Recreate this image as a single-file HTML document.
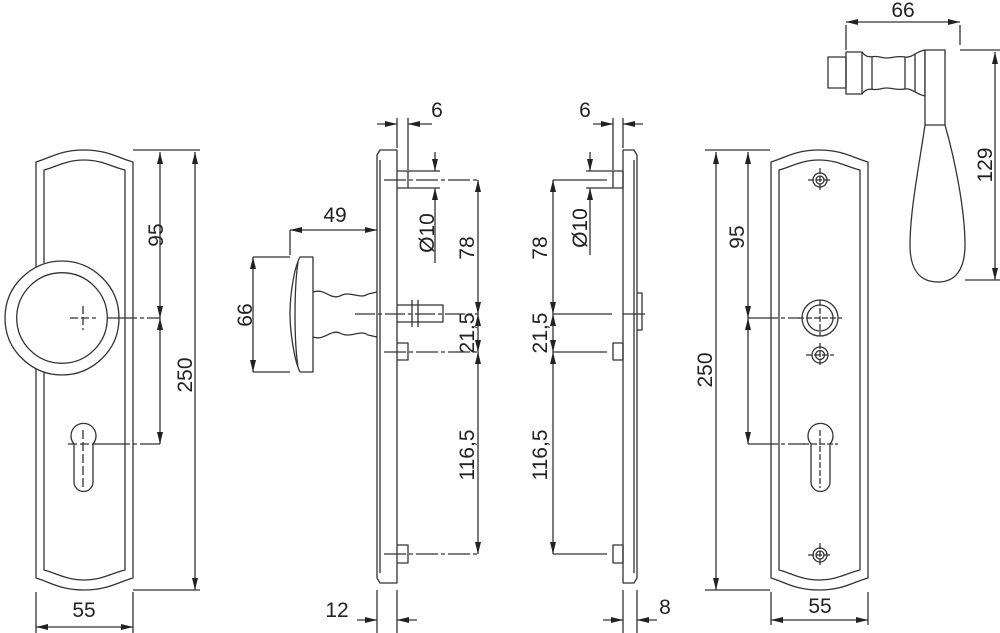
<!DOCTYPE html>
<html><head><meta charset="utf-8"><style>
html,body{margin:0;padding:0;background:#fff;}
svg{display:block;}
text{font-family:"Liberation Sans",Arial,sans-serif;font-size:21px;fill:#222;}
</style></head><body>
<svg width="1000" height="633" viewBox="0 0 1000 633" xmlns="http://www.w3.org/2000/svg">
<defs>
<marker id="a" viewBox="0 0 12 6" refX="12" refY="3" markerWidth="12" markerHeight="6" orient="auto-start-reverse" markerUnits="userSpaceOnUse"><path d="M0,0 L12,3 L0,6 Z" fill="#222"/></marker>
<g id="plate">
<path d="M36,162 C50,158 60,150 84,150 C108,150 118,158 133,162 L133,578 C118,582 108,590 84,590 C60,590 50,582 36,578 Z" fill="#fff"/>
<path d="M44,170 C56,167 66,160 84,160 C102,160 112,167 125,170 L125,570 C112,573 102,580 84,580 C66,580 56,573 44,570 Z" fill="none"/>
</g>
</defs>
<g fill="none" stroke="#333" stroke-width="1.3" stroke-linejoin="round">
<!-- LEFT PLATE -->
<use href="#plate"/>
<path d="M119,318 Q119,294 102,277.5 Q85,261 62,261 Q39,261 22,277.5 Q5,294 5,318 Q5,342 22,358.5 Q39,375 62,375 Q85,375 102,358.5 Q119,342 119,318Z" fill="#fff"/>
<path d="M107.3,318 Q107.3,299.25 94,285.9 Q80.75,272.7 62,272.7 Q43.25,272.7 30,285.9 Q16.7,299.25 16.7,318 Q16.7,336.75 30,350.1 Q43.25,363.3 62,363.3 Q80.75,363.3 94,350.1 Q107.3,336.75 107.3,318Z"/>
<path d="M70,318 H96 M83,306 V330" stroke-dasharray="8,3"/>
<path d="M74,444 A12.5,12.5 0 1 1 93,444 L93,482 A9.5,9.5 0 0 1 74,482 Z"/>
<path d="M68,444 H100 M83,430 V488" stroke-dasharray="9,3"/>
<path d="M107,318 H160 M100,444 H160" stroke-dasharray="30,3,4,3"/>
<path d="M133,150 H200 M133,590 H200"/>
<path d="M160,152 V318" marker-start="url(#a)" marker-end="url(#a)"/>
<path d="M160,318 V444" marker-start="url(#a)" marker-end="url(#a)"/>
<path d="M195,152 V590" marker-start="url(#a)" marker-end="url(#a)"/>
<path d="M36,592 V633 M133,592 V633"/>
<path d="M36,627 H133" marker-start="url(#a)" marker-end="url(#a)"/>

<!-- SIDE VIEW 1 -->
<path d="M380,150 H397 V583 H380 L377,578 V155 Z" fill="#fff"/>
<path d="M380,160 V573"/>
<path d="M397,171 H408 V188 H397 M397,343 H408 V360 H397 M397,545 H408 V563 H397"/>
<path d="M384,180 H478 M384,352 H478 M384,554 H478" stroke-dasharray="22,3,4,3"/>
<path d="M313,292 C325,288 330,300 340,296 C350,290 360,300 368,294 L377,292 M313,337 C325,341 330,329 340,333 C350,339 360,329 368,335 L377,337"/>
<path d="M300,257 H313 V372 H300 C294,360 290,330 290,314 C290,295 294,268 300,257 Z" fill="#fff"/>
<path d="M298,262 C294,290 294,340 298,367"/>
<path d="M397,305 H443 V322 H397 M412,300 V327 M418,300 V327"/>
<path d="M355,314 H478" stroke-dasharray="20,3,4,3"/>
<path d="M290,230 V255 M253,257 H290 M253,372 H290"/>
<path d="M290,230 H377" marker-start="url(#a)" marker-end="url(#a)"/>
<path d="M253,257 V372" marker-start="url(#a)" marker-end="url(#a)"/>
<path d="M397,118 V148 M408,118 V170"/>
<path d="M377,124 H397" marker-end="url(#a)"/><path d="M432,124 H408" marker-end="url(#a)"/>
<path d="M408,171 H440 M408,188 H440"/>
<path d="M435,152 V171" marker-end="url(#a)"/><path d="M435,263 V188" marker-end="url(#a)"/>
<path d="M478,180 V314" marker-start="url(#a)" marker-end="url(#a)"/>
<path d="M478,314 V352" marker-start="url(#a)" marker-end="url(#a)"/>
<path d="M478,352 V554" marker-start="url(#a)" marker-end="url(#a)"/>
<path d="M377,590 V633 M397,590 V633"/>
<path d="M357,620 H377" marker-end="url(#a)"/><path d="M417,620 H397" marker-end="url(#a)"/>

<!-- SIDE VIEW 2 -->
<path d="M623,150 H634 L637,155 V578 L634,583 H623 Z" fill="#fff"/>
<path d="M634,160 V573 M637,293 H642 V330 H637"/>
<path d="M613,171 H623 V188 H613 Z M613,343 H623 V360 H613 Z M613,545 H623 V563 H613 Z"/>
<path d="M553,180 H607 M553,314 H612 M623,314 H645 M553,352 H607 M553,554 H607"/>
<path d="M586,171 H613 M586,188 H613"/>
<path d="M590,152 V171" marker-end="url(#a)"/><path d="M590,255 V188" marker-end="url(#a)"/>
<path d="M613,118 V170 M623,118 V148"/>
<path d="M593,124 H613" marker-end="url(#a)"/><path d="M643,124 H623" marker-end="url(#a)"/>
<path d="M553,180 V314" marker-start="url(#a)" marker-end="url(#a)"/>
<path d="M553,314 V352" marker-start="url(#a)" marker-end="url(#a)"/>
<path d="M553,352 V554" marker-start="url(#a)" marker-end="url(#a)"/>
<path d="M623,590 V633 M637,590 V633"/>
<path d="M603,620 H623" marker-end="url(#a)"/><path d="M657,620 H637" marker-end="url(#a)"/>

<!-- RIGHT PLATE -->
<use href="#plate" transform="translate(735,0)"/>
<circle cx="820" cy="180" r="7"/><circle cx="820" cy="180" r="4"/>
<circle cx="820" cy="555" r="7"/><circle cx="820" cy="555" r="4"/>
<circle cx="820" cy="355" r="8"/><circle cx="820" cy="355" r="4.5"/>
<circle cx="820" cy="318" r="18"/><circle cx="820" cy="318" r="13"/>
<path d="M811,444 A12.5,12.5 0 1 1 830,444 L830,482 A9.5,9.5 0 0 1 811,482 Z"/>
<path d="M808,180 H832 M820,168 V192 M808,555 H832 M820,543 V567 M806,355 H834 M820,343 V367 M798,318 H842 M820,300 V336 M803,444 H838 M820,430 V488" stroke-dasharray="6,2"/>
<path d="M748,318 H800 M748,444 H805" stroke-dasharray="30,3,4,3"/>
<path d="M705,150 H770 M705,590 H770"/>
<path d="M716,152 V590" marker-start="url(#a)" marker-end="url(#a)"/>
<path d="M748,152 V318" marker-start="url(#a)" marker-end="url(#a)"/>
<path d="M748,318 V444" marker-start="url(#a)" marker-end="url(#a)"/>
<path d="M771,592 V625 M868,592 V625"/>
<path d="M771,620 H868" marker-start="url(#a)" marker-end="url(#a)"/>

<!-- HANDLE -->
<path d="M828,57 H846 V88 H828 Z"/>
<path d="M846,52 H862 C868,60 872,55 880,57 C890,60 895,55 905,57 C912,58 915,52 925,50 V96 C915,94 912,88 905,89 C895,91 890,86 880,89 C872,91 868,86 862,94 H846 Z"/>
<path d="M862,52 V94 M872,57 V89 M905,57 V89 M915,54 V92"/>
<path d="M925,50 H945 V125 C955,160 965,210 965,245 C965,270 955,282 938,282 C920,282 910,270 910,245 C910,210 920,160 925,125 Z" fill="#fff"/>
<path d="M925,125 H945"/>
<path d="M846,25 V50 M960,25 V45"/>
<path d="M846,22 H960" marker-start="url(#a)" marker-end="url(#a)"/>
<path d="M960,50 H1000 M965,280 H1000"/>
<path d="M995,52 V280" marker-start="url(#a)" marker-end="url(#a)"/>
</g>
<g>
<text x="156" y="242" transform="rotate(-90 156 235)" text-anchor="middle">95</text>
<text x="185" y="382" transform="rotate(-90 185 375)" text-anchor="middle">250</text>
<text x="84" y="617" text-anchor="middle">55</text>
<text x="335" y="222" text-anchor="middle">49</text>
<text x="245" y="322" transform="rotate(-90 245 315)" text-anchor="middle">66</text>
<text x="437" y="117" text-anchor="middle">6</text>
<text x="427" y="240" transform="rotate(-90 427 233)" text-anchor="middle">Ø10</text>
<text x="467" y="255" transform="rotate(-90 467 248)" text-anchor="middle">78</text>
<text x="467" y="340" transform="rotate(-90 467 333)" text-anchor="middle">21,5</text>
<text x="467" y="462" transform="rotate(-90 467 455)" text-anchor="middle">116,5</text>
<text x="337" y="617" text-anchor="middle">12</text>
<text x="585" y="117" text-anchor="middle">6</text>
<text x="580" y="235" transform="rotate(-90 580 228)" text-anchor="middle">Ø10</text>
<text x="540" y="255" transform="rotate(-90 540 248)" text-anchor="middle">78</text>
<text x="540" y="340" transform="rotate(-90 540 333)" text-anchor="middle">21,5</text>
<text x="540" y="462" transform="rotate(-90 540 455)" text-anchor="middle">116,5</text>
<text x="665" y="614" text-anchor="middle">8</text>
<text x="705" y="377" transform="rotate(-90 705 370)" text-anchor="middle">250</text>
<text x="737" y="244" transform="rotate(-90 737 237)" text-anchor="middle">95</text>
<text x="820" y="613" text-anchor="middle">55</text>
<text x="903" y="17" text-anchor="middle">66</text>
<text x="985" y="172" transform="rotate(-90 985 165)" text-anchor="middle">129</text>
</g>
</svg>
</body></html>
